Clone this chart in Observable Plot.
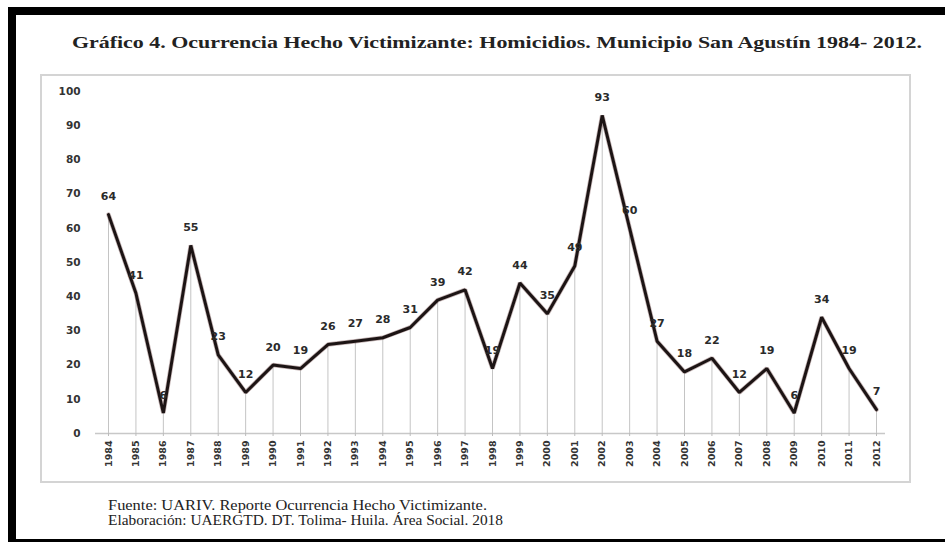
<!DOCTYPE html>
<html><head><meta charset="utf-8">
<script src="https://cdn.jsdelivr.net/npm/d3@7"></script>
<script src="https://cdn.jsdelivr.net/npm/@observablehq/plot@0.6"></script>
<style>
html,body{margin:0;padding:0;background:#fff;width:945px;height:542px;overflow:hidden;position:relative;}
.bar{position:absolute;background:#000;}
#title{position:absolute;left:0;top:27px;}
#box{position:absolute;left:40px;top:74px;width:867px;height:405px;border:2px solid #d4d4d4;background:#fff;}
#caption{position:absolute;left:108px;top:498px;}
</style></head>
<body>
<div class="bar" style="left:8px;top:7px;width:937px;height:8px"></div>
<div class="bar" style="left:8px;top:7px;width:8px;height:535px"></div>
<div class="bar" style="left:8px;top:539px;width:937px;height:3px"></div>
<svg id="title" width="945" height="30">
  <text x="72" y="21" textLength="850" lengthAdjust="spacingAndGlyphs" font-family="'Liberation Serif','Times New Roman','DejaVu Serif',serif" font-weight="bold" font-size="16" fill="#222">Gráfico 4. Ocurrencia Hecho Victimizante: Homicidios. Municipio San Agustín 1984- 2012.</text>
</svg>
<div id="box"></div>
<svg id="caption" width="500" height="36">
  <text x="0" y="12" textLength="379" lengthAdjust="spacingAndGlyphs" font-family="'Liberation Serif','Times New Roman','DejaVu Serif',serif" font-size="14" fill="#222">Fuente: UARIV. Reporte Ocurrencia Hecho Victimizante.</text>
  <text x="0" y="27" textLength="395" lengthAdjust="spacingAndGlyphs" font-family="'Liberation Serif','Times New Roman','DejaVu Serif',serif" font-size="14" fill="#222">Elaboración: UAERGTD. DT. Tolima- Huila. Área Social. 2018</text>
</svg>
<script>
const years = [1984,1985,1986,1987,1988,1989,1990,1991,1992,1993,1994,1995,1996,1997,1998,1999,2000,2001,2002,2003,2004,2005,2006,2007,2008,2009,2010,2011,2012];
const homicidios = [64,41,6,55,23,12,20,19,26,27,28,31,39,42,19,44,35,49,93,60,27,18,22,12,19,6,34,19,7];
const yTicks = [0,10,20,30,40,50,60,70,80,90,100];

const data = years.map((y,i)=>({year:y, value:homicidios[i]}));

const chart = Plot.plot({
  width: 867,
  height: 405,
  marginTop: 15,
  marginBottom: 48,
  marginLeft: 53,
  marginRight: 24,
  style: {fontFamily: "'DejaVu Sans', Verdana, sans-serif", background: "transparent"},
  x: {type: "linear", domain: [1984, 2012], insetLeft: 13, insetRight: 9},
  y: {domain: [0, 100]},
  marks: [
    Plot.ruleX(data, {x: "year", y1: 0, y2: "value", stroke: "#c4c4c4", strokeWidth: 1}),
    Plot.ruleY([0], {stroke: "#c8c8c8", strokeWidth: 1.5}),
    Plot.axisY({ticks: yTicks, tickSize: 0, tickPadding: 15, fontSize: 10.5, fontWeight: "bold", fill: "#333", label: null}),
    Plot.axisX({ticks: years, tickFormat: d => String(d), tickSize: 3, tickPadding: 4, tickRotate: -90, fontSize: 9.5, fontWeight: "bold", fill: "#333", stroke: "#bbb", label: null}),
    Plot.line(data, {x: "year", y: "value", stroke: "#5a2a2a", strokeWidth: 4.5, strokeOpacity: 0.35, strokeLinejoin: "miter"}),
    Plot.line(data, {x: "year", y: "value", stroke: "#1c1414", strokeWidth: 3, strokeLinejoin: "miter"}),
    Plot.text(data, {x: "year", y: "value", text: d => String(d.value), dy: -18, fontSize: 11, fontWeight: "bold", fill: "#2a2a2a"})
  ]
});
document.getElementById("box").appendChild(chart);
</script>
</body></html>
